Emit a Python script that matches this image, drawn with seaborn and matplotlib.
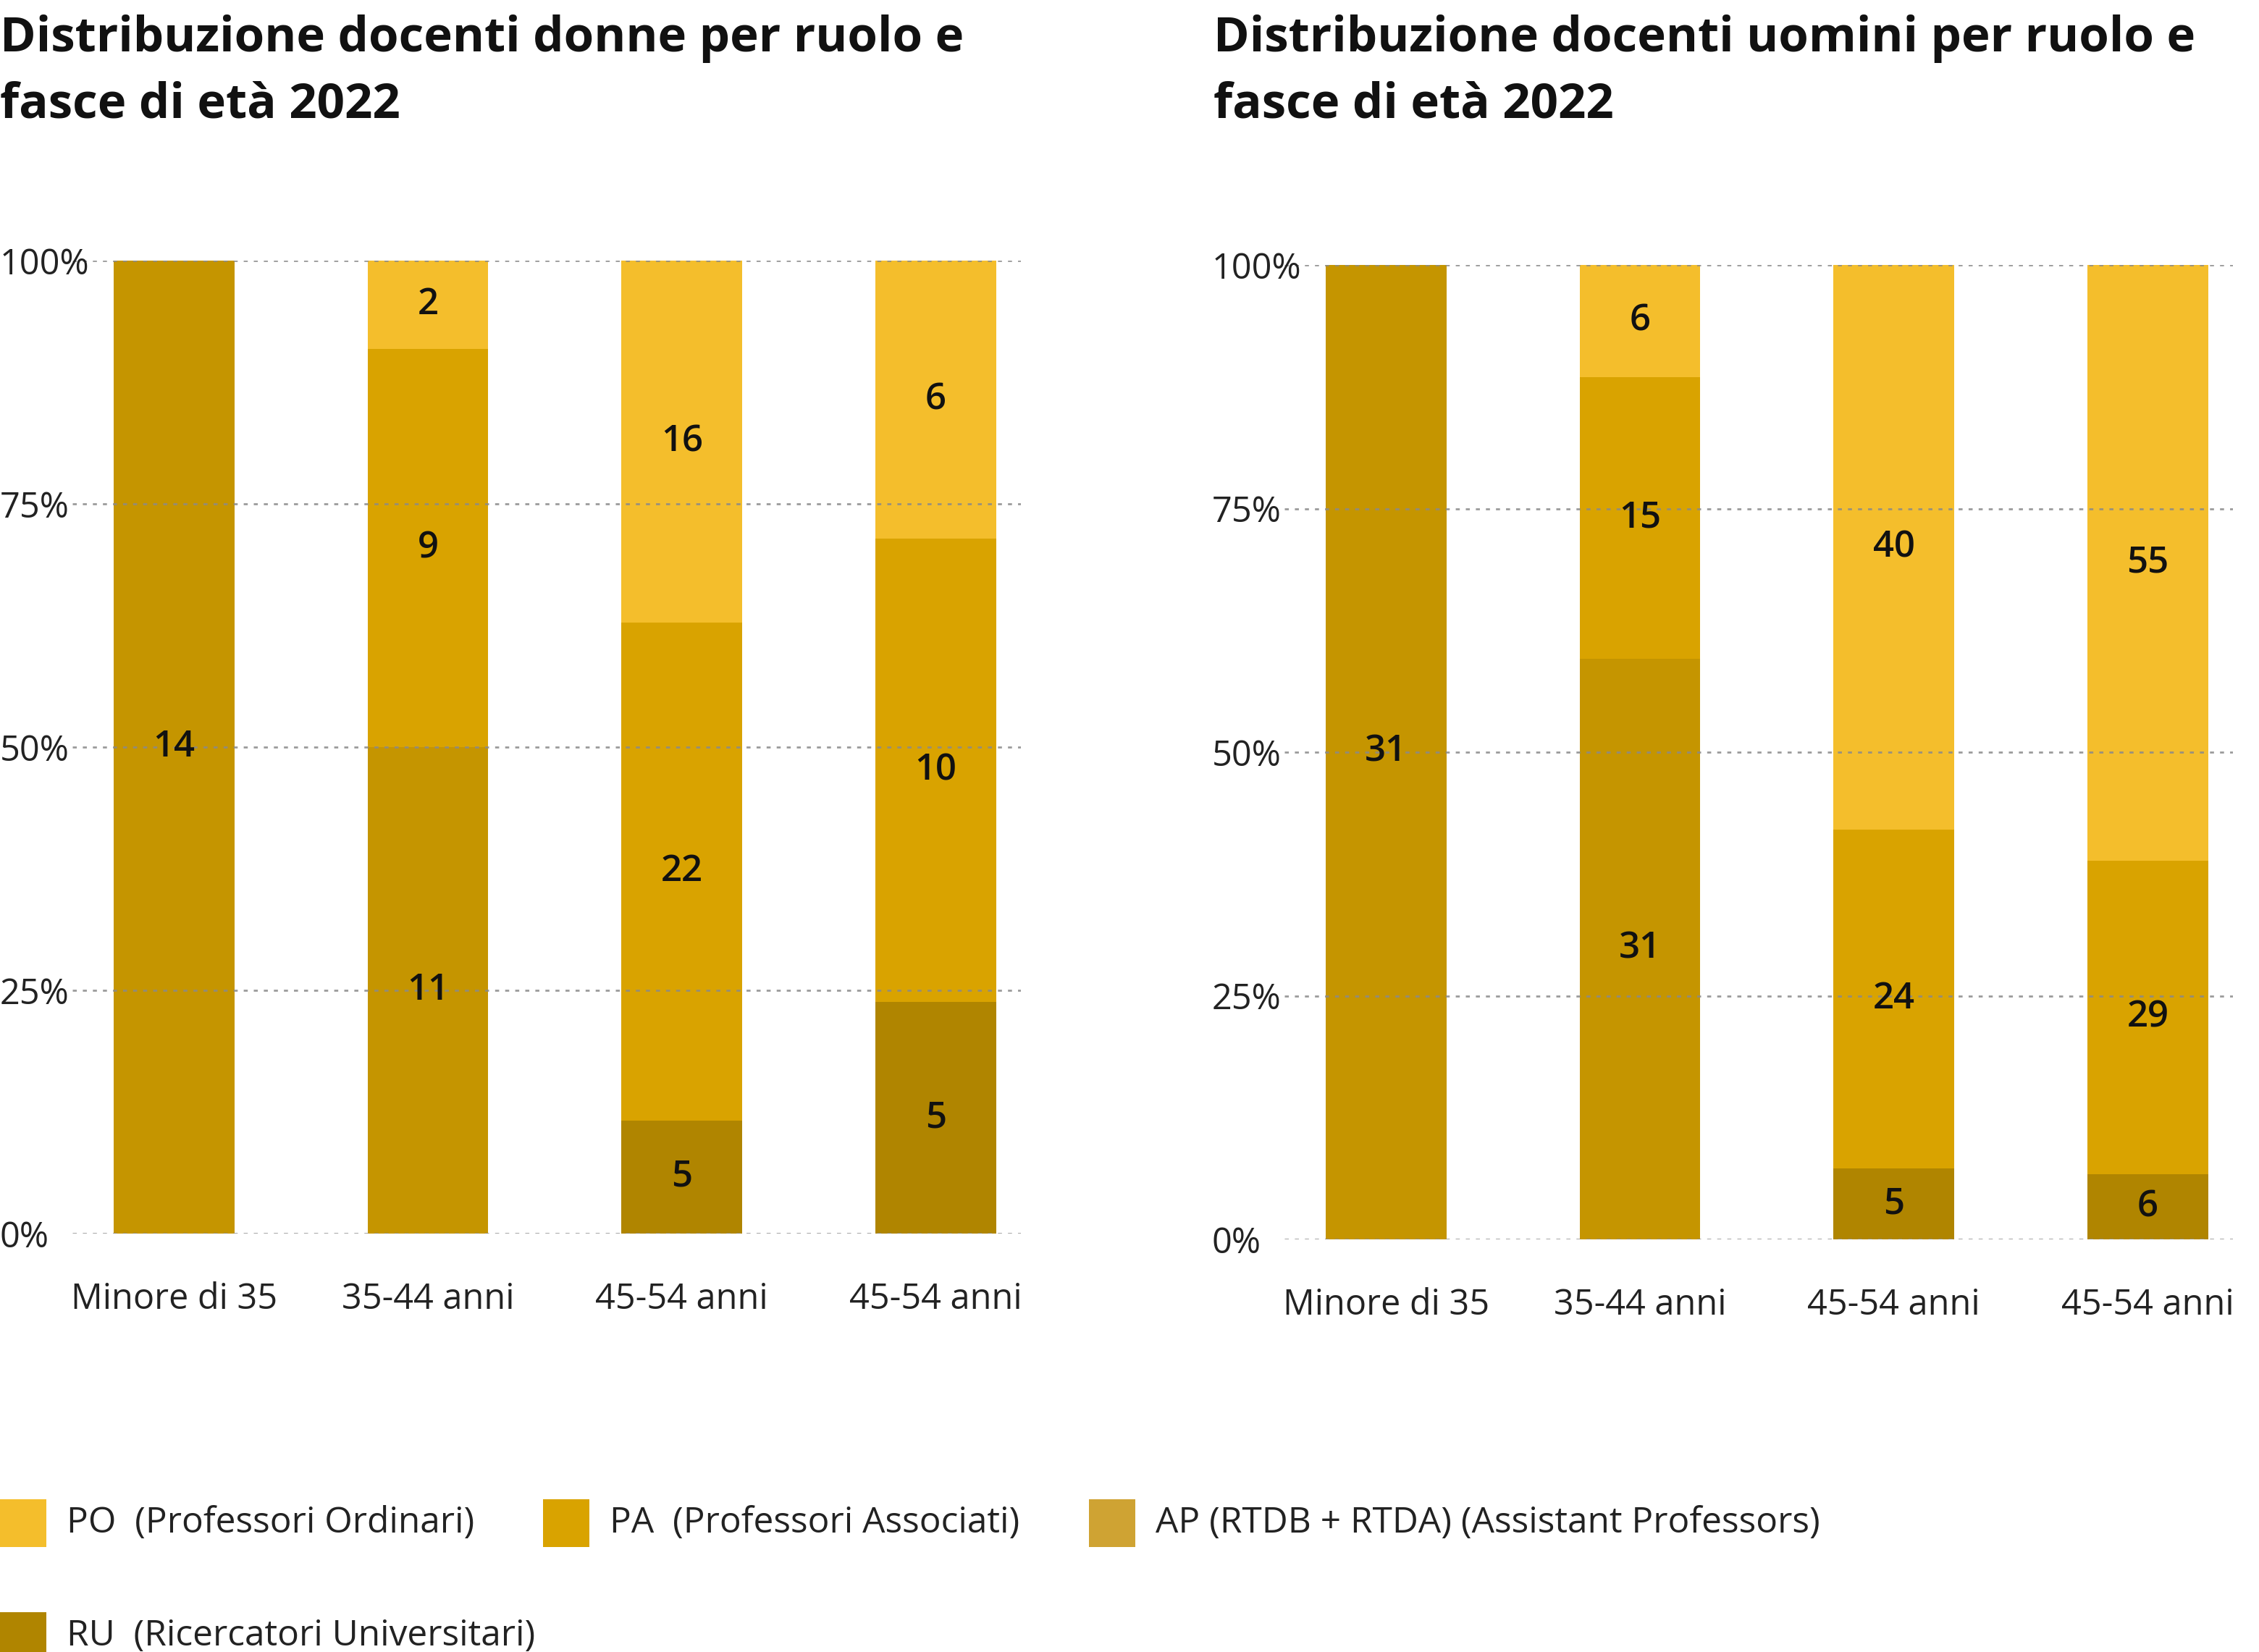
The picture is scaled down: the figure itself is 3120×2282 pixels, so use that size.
import matplotlib
matplotlib.use("Agg")
import matplotlib.pyplot as plt
from matplotlib.patches import Rectangle
import pandas as pd
import seaborn as sns

# dati
categorie = ["Minore di 35", "35-44 anni", "45-54 anni", "45-54 anni"]
ruoli = ["RU", "AP", "PA", "PO"]  # dal basso verso l'alto

donne_RU = [0, 0, 5, 5]
donne_AP = [14, 11, 0, 0]
donne_PA = [0, 9, 22, 10]
donne_PO = [0, 2, 16, 6]

uomini_RU = [0, 0, 5, 6]
uomini_AP = [31, 31, 0, 0]
uomini_PA = [0, 15, 24, 29]
uomini_PO = [0, 6, 40, 55]

titoli = ["Distribuzione docenti donne per ruolo e\nfasce di età 2022",
          "Distribuzione docenti uomini per ruolo e\nfasce di età 2022"]

legenda = ["PO  (Professori Ordinari)", "PA  (Professori Associati)",
           "AP (RTDB + RTDA) (Assistant Professors)", "RU  (Ricercatori Universitari)"]

colori = {"PO": "#F4BE2C", "PA": "#D9A300", "AP": "#C59500", "RU": "#B08500"}
colore_legenda_AP = "#CFA333"

sns.set_style("white")
plt.rcParams["font.family"] = ["Open Sans", "DejaVu Sans"]

W, H = 3120, 2282
fig = plt.figure(figsize=(W / 200, H / 200), dpi=200)


def fx(px):
    return px / W


def fy(py):
    return 1 - py / H


def pannello(ax, serie):
    df = pd.DataFrame(serie, index=ruoli).T
    df["pos"] = range(len(categorie))
    tot = df[ruoli].sum(axis=1)
    quote = df[ruoli].div(tot, axis=0)
    cum = quote.cumsum(axis=1)
    # barre cumulative, dalla più alta alla più bassa
    for r in ruoli[::-1]:
        d = pd.DataFrame({"pos": df["pos"], "v": cum[r]})
        sns.barplot(data=d, x="pos", y="v", color=colori[r], saturation=1,
                    width=0.475, ax=ax, zorder=1, linewidth=0, edgecolor="none")
    # etichette dei segmenti
    for i in range(len(categorie)):
        base = 0
        for r in ruoli:
            q = quote.loc[i, r]
            if df.loc[i, r] > 0:
                ax.text(i, base + q / 2, str(df.loc[i, r]), ha="center", va="center",
                        fontsize=18.3, fontweight="semibold", color="#111111", zorder=5)
            base += q
    ax.set_ylim(0, 1)
    ax.set_xlim(-0.40, 3.335)
    ax.set_yticks([0, 0.25, 0.5, 0.75, 1.0])
    ax.set_yticklabels(["0%", "25%", "50%", "75%", "100%"], ha="left")
    ax.set_xticks(range(len(categorie)))
    ax.set_xticklabels(categorie)
    ax.tick_params(axis="y", length=0, pad=36, labelsize=17.5, labelcolor="#222222")
    ax.tick_params(axis="x", length=0, pad=24, labelsize=17.5, labelcolor="#222222")
    ax.set_xlabel("")
    ax.set_ylabel("")
    ax.set_axisbelow(False)
    ax.yaxis.grid(True, color="#8a8a8a", linestyle=(0, (2, 3)), linewidth=1.0, alpha=0.85)
    ax.xaxis.grid(False)
    sns.despine(ax=ax, left=True, bottom=True)


ax1 = fig.add_axes([fx(100), fy(1704), fx(1310), (1704 - 360) / H])
ax2 = fig.add_axes([fx(1774), fy(1712), fx(1310), (1712 - 366) / H])

pannello(ax1, [donne_RU, donne_AP, donne_PA, donne_PO])
pannello(ax2, [uomini_RU, uomini_AP, uomini_PA, uomini_PO])

fig.text(fx(0), fy(20), titoli[0], ha="left", va="top", fontsize=24.2,
         fontweight="bold", linespacing=1.48, color="#111111")
fig.text(fx(1676), fy(20), titoli[1], ha="left", va="top", fontsize=24.2,
         fontweight="bold", linespacing=1.48, color="#111111")

# legenda
voci = [("PO", 0, 2104), ("PA", 750, 2104), ("AP", 1504, 2104), ("RU", 0, 2260)]
for (r, x0, yc), testo in zip(voci, legenda):
    col = colore_legenda_AP if r == "AP" else colori[r]
    fig.add_artist(Rectangle((fx(x0), fy(yc + 33)), fx(64), 66 / H,
                             transform=fig.transFigure, color=col, lw=0))
    fig.text(fx(x0 + 92), fy(yc), testo, ha="left", va="center",
             fontsize=17.85, color="#222222")

fig.savefig("out.png", dpi=200)
